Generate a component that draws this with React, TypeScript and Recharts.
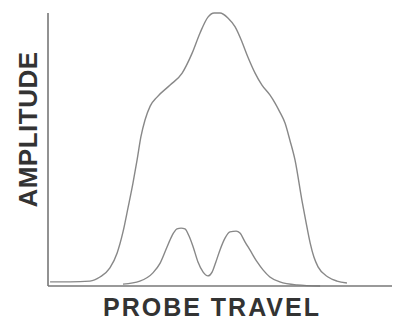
import React from 'react';
import { LineChart, Line, XAxis, YAxis, Label } from 'recharts';

// probe travel (0-100) vs amplitude (0-100)
const OUTER_X = [0.6, 6.4, 12.2, 15.1, 18.0, 20.1, 21.8, 23.3, 24.7, 25.9, 27.0, 28.2, 29.7, 31.7, 35.5, 39.0, 41.9, 44.2, 46.5, 48.3, 50.0, 52.3, 54.4, 56.4, 58.1, 60.2, 62.2, 64.5, 66.0, 67.4, 68.9, 70.3, 71.8, 73.8, 75.0, 76.2, 77.3, 78.5, 81.4, 84.0, 86.9];
const OUTER_Y = [1.5, 1.5, 1.8, 3.3, 6.6, 12.1, 19.8, 28.9, 37.7, 46.2, 54.6, 60.8, 65.9, 69.2, 73.6, 78.0, 85.3, 92.7, 98.5, 100, 100, 98.2, 94.9, 89.4, 83.9, 78.0, 73.6, 70.0, 67.0, 63.7, 59.7, 53.5, 46.2, 31.5, 23.4, 15.8, 10.6, 7.0, 3.3, 1.8, 1.1];

const INNER_X = [21.8, 26.7, 30.5, 32.6, 34.6, 36.0, 37.5, 38.7, 39.8, 41.0, 42.2, 43.6, 45.1, 46.5, 47.7, 48.8, 50.0, 51.5, 52.9, 54.7, 55.8, 57.3, 58.7, 60.8, 62.5, 64.5, 67.4, 72.4, 79.1];
const INNER_Y = [0.7, 1.8, 4.8, 8.4, 14.3, 18.3, 20.9, 21.2, 20.9, 18.3, 14.3, 8.8, 5.1, 3.7, 5.1, 8.8, 13.2, 17.6, 19.8, 20.1, 19.4, 16.1, 13.2, 8.8, 5.9, 3.3, 1.5, 0.4, 0];

const outer = OUTER_X.map((x, i) => ({ x, y: OUTER_Y[i] }));
const inner = INNER_X.map((x, i) => ({ x, y: INNER_Y[i] }));

const labelStyle = { fontFamily: '"Liberation Sans", Arial, sans-serif', fontWeight: 700, fontSize: 26, fill: '#333' };

const App: React.FC = () => {
  return (
    <div style={{ position: 'absolute', left: 0, top: 0, background: '#fff' }}>
      <LineChart width={395} height={322} margin={{ top: 13, right: 3, bottom: 35, left: 47 }}>
        <XAxis
          type="number"
          dataKey="x"
          domain={[0, 100]}
          height={1}
          tick={false}
          tickLine={false}
          stroke="#777"
          strokeWidth={1.6}
        >
          <Label
            content={(props: any) => {
              const vb = props.viewBox || {};
              return (
                <text x={vb.x + vb.width / 2 - 8} y={vb.y + 30} textAnchor="middle" letterSpacing={2} style={{ ...labelStyle, fontSize: 25 }}>
                  PROBE TRAVEL
                </text>
              );
            }}
          />
        </XAxis>
        <YAxis
          type="number"
          dataKey="y"
          domain={[0, 100]}
          width={1}
          tick={false}
          tickLine={false}
          stroke="#777"
          strokeWidth={1.6}
        >
          <Label
            content={(props: any) => {
              const vb = props.viewBox || {};
              const cx = vb.x + vb.width - 20;
              const cy = vb.y + vb.height / 2 - 20;
              return (
                <text x={cx} y={cy} textAnchor="middle" dominantBaseline="central" letterSpacing={0.5} transform={`rotate(-90 ${cx} ${cy})`} style={labelStyle}>
                  AMPLITUDE
                </text>
              );
            }}
          />
        </YAxis>
        <Line data={outer} dataKey="y" type="monotone" stroke="#888" strokeWidth={1.4} dot={false} isAnimationActive={false} />
        <Line data={inner} dataKey="y" type="monotone" stroke="#888" strokeWidth={1.4} dot={false} isAnimationActive={false} />
      </LineChart>
    </div>
  );
};

export default App;
